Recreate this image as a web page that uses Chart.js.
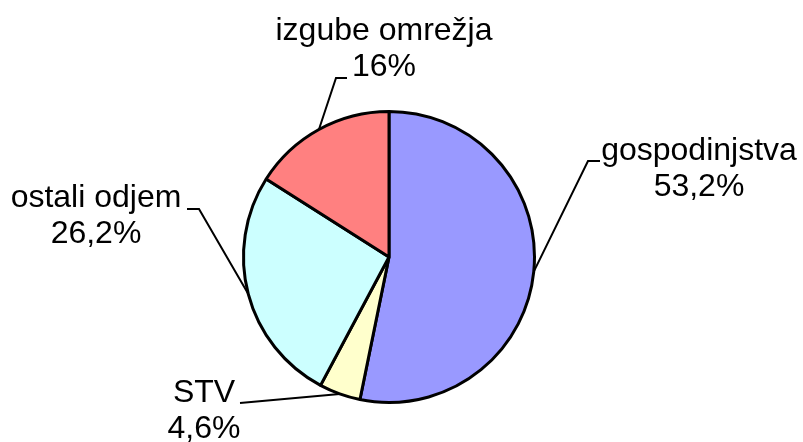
<!DOCTYPE html>
<html>
<head>
<meta charset="utf-8">
<script src="https://cdn.jsdelivr.net/npm/chart.js@4.4.1/dist/chart.umd.min.js"></script>
<style>
body { margin: 0; background: #fff; }
canvas { display: block; }
</style>
</head>
<body>
<canvas id="pita" width="803" height="442"></canvas>
<script>
// podatki
var kategorije = ['gospodinjstva', 'STV', 'ostali odjem', 'izgube omrežja'];
var deleži = [53.2, 4.6, 26.2, 16];
var oznake = ['53,2%', '4,6%', '26,2%', '16%'];
var barve = ['#9999FF', '#FFFFCC', '#CCFFFF', '#FF8080'];

// postavitev napisov: sredina besedila, osnovnica prve vrstice, točke črte
var napisi = [
	{ cx: 699, y: 160, crta: [[600, 161], [588, 161]] },
	{ cx: 204, y: 402, crta: [[240, 403]] },
	{ cx: 96, y: 207, crta: [[187, 209], [199, 209]] },
	{ cx: 384, y: 40, crta: [[347, 78], [336, 78]] }
];

var napisiPlugin = {
	id: 'napisi',
	afterDraw: function(chart) {
		var ctx = chart.ctx;
		var arcs = chart.getDatasetMeta(0).data;
		ctx.save();
		ctx.font = '32px "Liberation Sans", Arial, sans-serif';
		ctx.fillStyle = '#000';
		ctx.textAlign = 'center';
		ctx.textBaseline = 'alphabetic';
		for (var i = 0; i < arcs.length; i++) {
			var a = arcs[i];
			var n = napisi[i];
			var kot = (a.startAngle + a.endAngle) / 2;
			var r = a.outerRadius;
			var ex = a.x + r * Math.cos(kot);
			var ey = a.y + r * Math.sin(kot);

			ctx.beginPath();
			ctx.moveTo(n.crta[0][0], n.crta[0][1]);
			for (var j = 1; j < n.crta.length; j++) ctx.lineTo(n.crta[j][0], n.crta[j][1]);
			ctx.lineTo(ex, ey);
			ctx.strokeStyle = '#000';
			ctx.lineWidth = 2;
			ctx.stroke();

			ctx.fillText(kategorije[i], n.cx, n.y);
			ctx.fillText(oznake[i], n.cx, n.y + 36);
		}
		ctx.restore();
	}
};

var ctx = document.getElementById('pita');
var pita = new Chart(ctx, {
	type: 'pie',
	data: {
		labels: kategorije,
		datasets: [{
			data: deleži,
			backgroundColor: barve,
			borderColor: '#000',
			borderWidth: 3
		}]
	},
	options: {
		responsive: false,
		animation: false,
		layout: { padding: { left: 242, right: 267, top: 110, bottom: 38 } },
		plugins: {
			legend: { display: false },
			tooltip: { enabled: false }
		}
	},
	plugins: [napisiPlugin]
});
</script>
</body>
</html>
